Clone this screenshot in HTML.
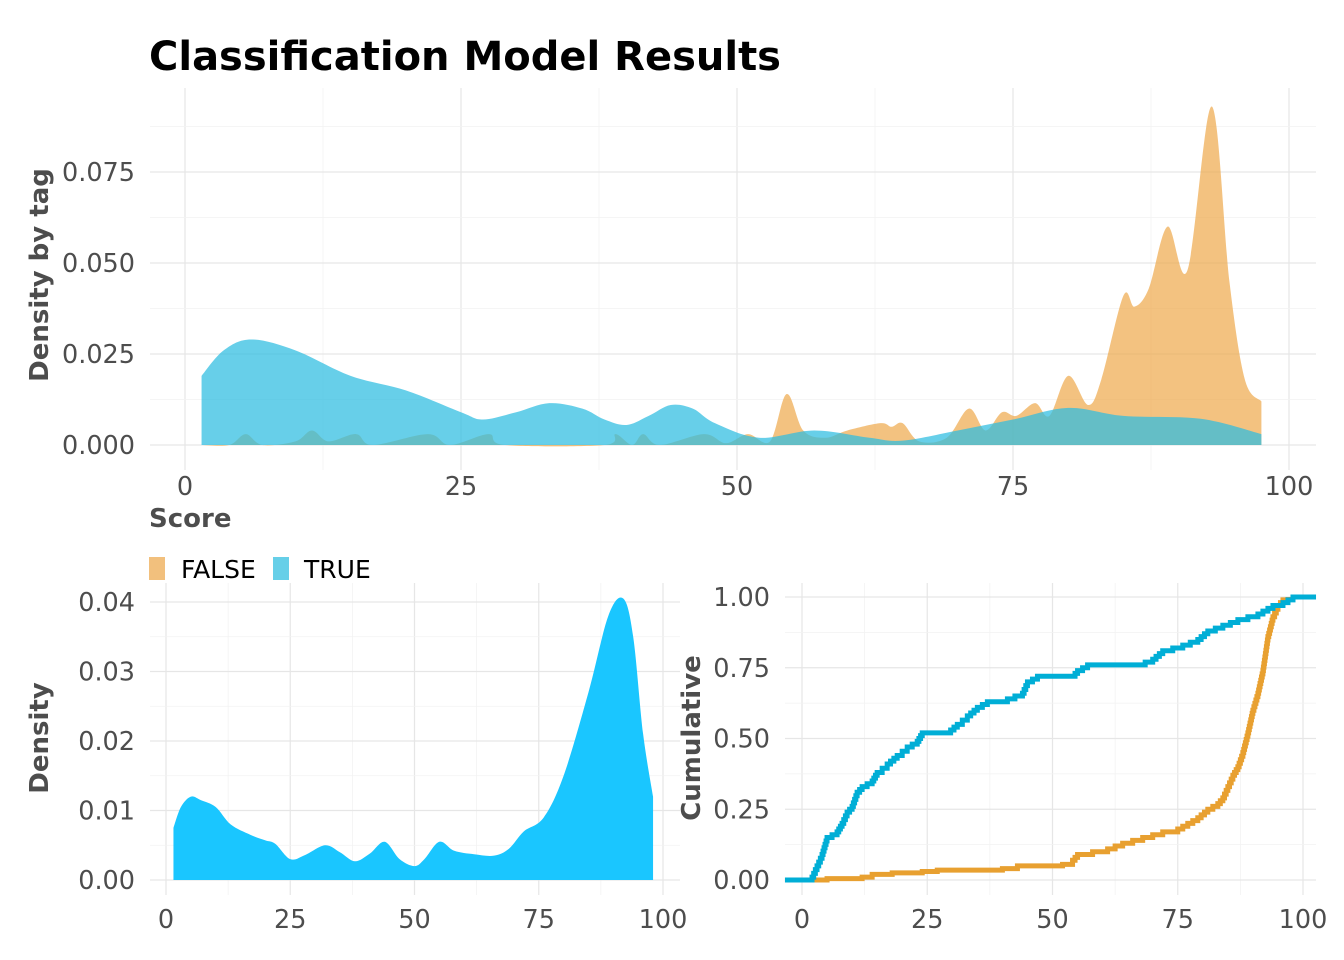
<!DOCTYPE html>
<html><head><meta charset="utf-8"><style>
body{margin:0;background:#fff;}
svg{display:block;font-family:"DejaVu Sans","Liberation Sans",sans-serif;}
.t{font-size:25.5px;fill:#4d4d4d;}
.ax{font-size:26px;font-weight:bold;fill:#4d4d4d;}
</style></head><body>
<svg id="s" width="1344" height="960" viewBox="0 0 1344 960">
<text x="149" y="70" font-size="40" font-weight="bold" fill="#000">Classification Model Results</text>
<g id="g"></g>
<text class="ax" x="149" y="527">Score</text>
<text class="ax" transform="translate(48,275) rotate(-90)" text-anchor="middle">Density by tag</text>
<text class="ax" transform="translate(48,738) rotate(-90)" text-anchor="middle">Density</text>
<text class="ax" transform="translate(700,738) rotate(-90)" text-anchor="middle">Cumulative</text>
<rect x="149" y="557" width="16" height="23" fill="#F2C07D"/>
<text x="181" y="578" font-size="25" fill="#000">FALSE</text>
<rect x="273" y="557" width="16" height="23" fill="#66CFE8"/>
<text x="304" y="578" font-size="25" fill="#000">TRUE</text>
</svg>
<script>
var g=document.getElementById('g'),NS='http://www.w3.org/2000/svg';
function el(t,a,txt){var e=document.createElementNS(NS,t);for(var k in a)e.setAttribute(k,a[k]);if(txt!==undefined)e.textContent=txt;g.appendChild(e);return e;}
function panel(P){
 for(var v=P.xmin;v<=P.xmax;v+=P.xs/2){var X=P.X(v);if(X<P.l||X>P.r)continue;var maj=Math.abs(v/P.xs-Math.round(v/P.xs))<1e-6;el('line',{x1:X,x2:X,y1:P.t,y2:P.b,stroke:maj?'#e6e6e6':'#f2f2f2','stroke-width':maj?1.2:0.8});}
 for(var v=P.ymin;v<=P.ymax+1e-9;v+=P.ys/2){var Y=P.Y(v);if(Y<P.t||Y>P.b)continue;var maj=Math.abs(v/P.ys-Math.round(v/P.ys))<1e-6;el('line',{x1:P.l,x2:P.r,y1:Y,y2:Y,stroke:maj?'#e6e6e6':'#f2f2f2','stroke-width':maj?1.2:0.8});}
 P.xt.forEach(function(v){el('text',{class:'t',x:P.X(v),y:P.b+(P.xo||25),'text-anchor':'middle'},String(v));});
 P.yt.forEach(function(v){el('text',{class:'t',x:P.l-15,y:P.Y(v)+9,'text-anchor':'end'},v.toFixed(P.yd));});
}
function smooth(pts){var d='M'+pts[0][0]+','+pts[0][1];for(var i=0;i<pts.length-1;i++){var p0=pts[Math.max(i-1,0)],p1=pts[i],p2=pts[i+1],p3=pts[Math.min(i+2,pts.length-1)];var c1=[p1[0]+(p2[0]-p0[0])/6,p1[1]+(p2[1]-p0[1])/6],c2=[p2[0]-(p3[0]-p1[0])/6,p2[1]-(p3[1]-p1[1])/6];d+='C'+c1+' '+c2+' '+p2;}return d;}
function area(data,X,Y,fill,op){var pts=data.map(function(p){return[X(p[0]),Y(p[1])];});var d=smooth(pts)+'L'+X(data[data.length-1][0])+','+Y(0)+'L'+X(data[0][0])+','+Y(0)+'Z';el('path',{d:d,fill:fill,'fill-opacity':op});}
function step(data,X,Y,col){var d='M'+X(data[0][0])+','+Y(data[0][1]);for(var i=1;i<data.length;i++){var a=data[i-1],b=data[i];var n=Math.max(1,Math.round((b[1]-a[1])/0.012));if(b[0]-a[0]<0.5||n==1){d+='H'+X(b[0])+'V'+Y(b[1]);}else{for(var k=1;k<=n;k++){var x=a[0]+(b[0]-a[0])*k/n,y=a[1]+(b[1]-a[1])*k/n;d+='H'+X(x)+'V'+Y(y);}}}el('path',{d:d,fill:'none',stroke:col,'stroke-width':5});}
var T={l:150,r:1316,t:88,b:470,xmin:0,xmax:112.5,xs:25,ymin:-0.0125,ymax:0.1,ys:0.025,X:function(v){return 185+v*11.04},Y:function(v){return 445-v*3640},xt:[0,25,50,75,100],yt:[0,0.025,0.05,0.075],yd:3,xo:25};
panel(T);
var tr=[[1.5,0.019],[3.5,0.026],[6,0.029],[10,0.026],[15,0.019],[20,0.015],[25,0.009],[27,0.007],[30,0.009],[33,0.0115],[36,0.010],[38,0.007],[40,0.0055],[42,0.008],[44,0.011],[46,0.010],[48,0.006],[52,0.002],[57,0.004],[62,0.002],[65,0.0012],[70,0.004],[75,0.007],[80,0.0102],[85,0.008],[92,0.0072],[97.5,0.003]];
var fa=[[1.5,0],[4,0],[5.5,0.003],[7,0],[10,0.001],[11.5,0.004],[13,0.001],[15.5,0.003],[17,0],[22,0.003],[24,0],[27.5,0.003],[29,0],[38,0],[39,0.003],[40.5,0],[41.5,0.003],[43,0],[47,0.003],[49,0.0005],[51,0.003],[53,0.001],[54.5,0.014],[56,0.004],[58,0.002],[60,0.004],[63,0.006],[64,0.005],[65,0.006],[66.5,0.001],[69,0.002],[71,0.010],[72.5,0.004],[74,0.009],[75.3,0.008],[77,0.0115],[78.3,0.008],[80,0.019],[81.8,0.011],[83,0.018],[85,0.041],[86,0.038],[87.3,0.043],[89,0.060],[90.8,0.048],[93,0.093],[94.6,0.045],[96,0.018],[97.5,0.012]];
area(fa,T.X,T.Y,'#EEA84A',0.7);
area(tr,T.X,T.Y,'#2CBCE0',0.72);
var L={l:150,r:680,t:583,b:895,xmin:-25,xmax:112.5,xs:25,ymin:0,ymax:0.045,ys:0.01,X:function(v){return 166+v*4.97},Y:function(v){return 880-v*6950},xt:[0,25,50,75,100],yt:[0,0.01,0.02,0.03,0.04],yd:2,xo:33};
panel(L);
var dl=[[1.5,0.0075],[3,0.0105],[5,0.012],[7,0.0115],[10,0.0105],[13,0.008],[17,0.0065],[20,0.0057],[22,0.0052],[25,0.003],[28,0.0036],[32,0.005],[35,0.004],[38,0.0027],[41,0.0038],[44,0.0055],[47,0.003],[50,0.002],[52,0.003],[55,0.0055],[58,0.0042],[62,0.0037],[66,0.0035],[69,0.0045],[72,0.007],[76,0.009],[80,0.015],[85,0.027],[89,0.038],[92,0.0405],[94,0.035],[96,0.021],[98,0.012]];
area(dl,L.X,L.Y,'#1AC6FF',1);
var R={l:785,r:1316,t:583,b:895,xmin:-25,xmax:112.5,xs:25,ymin:0,ymax:1.05,ys:0.25,X:function(v){return 802+v*5.01},Y:function(v){return 880-v*283},xt:[0,25,50,75,100],yt:[0,0.25,0.5,0.75,1],yd:2,xo:33};
panel(R);
var cb=[[-3.4,0],[1.5,0],[2,0.01],[3,0.05],[4,0.09],[5,0.15],[7,0.17],[8,0.2],[9,0.24],[10,0.26],[11,0.31],[12,0.33],[14,0.35],[15,0.38],[17,0.41],[19,0.44],[21,0.47],[23,0.49],[24,0.52],[29,0.52],[31,0.55],[33,0.58],[35,0.61],[37,0.63],[41,0.64],[44,0.66],[45,0.7],[47,0.72],[54,0.72],[55,0.74],[57,0.76],[67,0.76],[70,0.78],[72,0.81],[76,0.83],[79,0.85],[81,0.88],[84,0.9],[87,0.92],[91,0.94],[94,0.97],[96,0.98],[98,1.0],[102.6,1.0]];
var co=[[-3.4,0],[2,0],[5,0.005],[12,0.01],[14,0.02],[18,0.025],[24,0.03],[27,0.035],[40,0.04],[43,0.05],[52,0.055],[54,0.07],[55,0.09],[58,0.1],[61,0.11],[64,0.13],[68,0.15],[72,0.17],[75,0.18],[77,0.2],[79,0.22],[81,0.25],[83,0.27],[84,0.29],[85,0.33],[86,0.37],[87,0.4],[88,0.45],[89,0.52],[90,0.6],[91,0.66],[92,0.74],[93,0.86],[94,0.93],[95,0.97],[96,0.99],[97,1.0]];
step(co,R.X,R.Y,'#E8A030');
step(cb,R.X,R.Y,'#00AED6');
</script>
</body></html>
